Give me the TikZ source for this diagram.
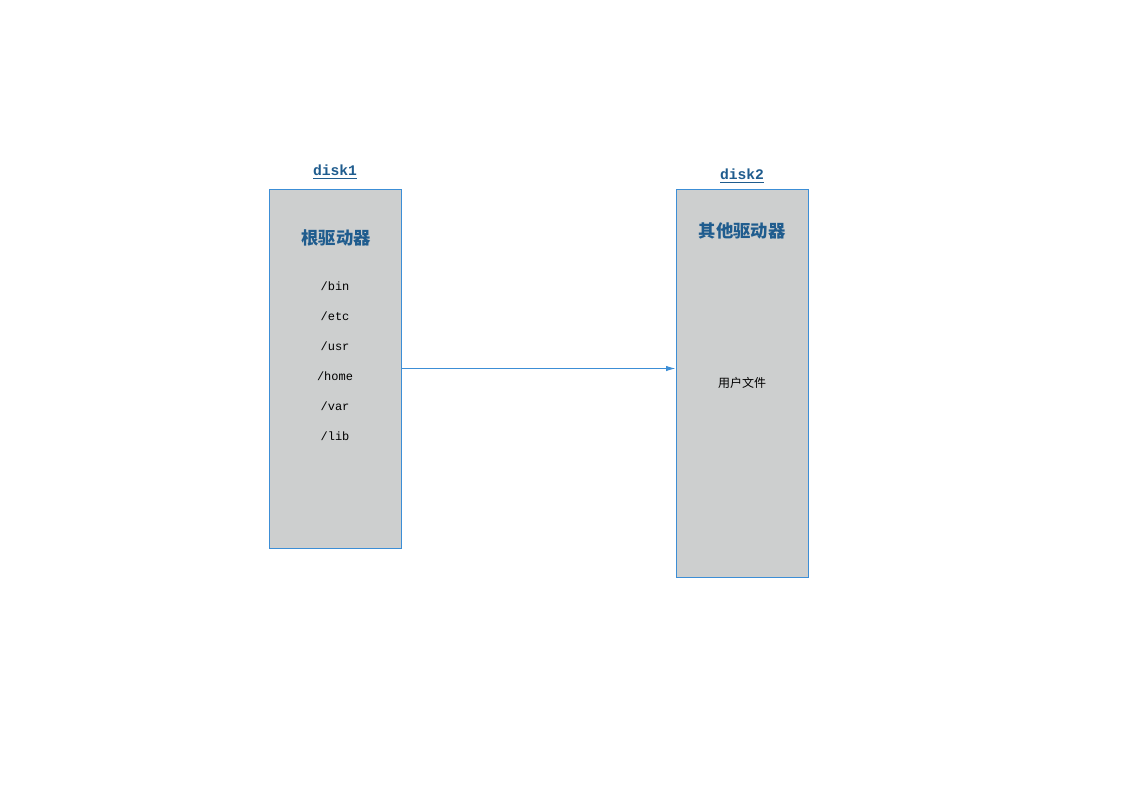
\documentclass[tikz,border=0pt]{standalone}
\usepackage{fontspec}
\setmonofont{Liberation Mono}
\newfontfamily\cjk{Noto Sans CJK SC}
\usetikzlibrary{arrows.meta}
\definecolor{diskfill}{HTML}{CDCFCF}
\definecolor{diskline}{HTML}{3C8ED6}
\definecolor{disktext}{HTML}{1F5C8E}
\begin{document}
\begin{tikzpicture}[x=0.75pt,y=-0.75pt,
  disk/.style={draw=diskline,fill=diskfill,line width=0.75pt,minimum width=99pt,inner sep=0pt},
  disklabel/.style={font=\ttfamily\bfseries\fontsize{11}{13}\selectfont,text=disktext},
  diskhead/.style={font=\cjk\bfseries\fontsize{13}{15}\selectfont,text=disktext},
  dir/.style={font=\ttfamily\fontsize{9}{11}\selectfont}]
\useasboundingbox (0,0) rectangle (1123,794);
% 磁盘
\node[disk,minimum height=269.25pt] (disk1box) at (335,368.5) {};
\node[disk,minimum height=291pt] (disk2box) at (742,383) {};
\node[disklabel] (disk1) at (335,172) {\underline{disk1}};
\node[disklabel] (disk2) at (742,176) {\underline{disk2}};
% 根驱动器
\node[diskhead] (root) at (336,238) {根驱动器};
\foreach \d [count=\i] in {bin,etc,usr,home,var,lib}
  \node[dir] (dir\i) at (335,256+30*\i) {/\d};
% 其他驱动器
\node[diskhead] (other) at (742,231) {其他驱动器};
\node[font=\cjk\fontsize{9}{11}\selectfont] (user) at (742,383) {用户文件};
% 箭头
\draw[diskline,line width=0.75pt,-{Latex[length=7pt,width=4pt]}] (disk1box.east) -- (disk1box.east -| disk2box.west);
\end{tikzpicture}
\end{document}
